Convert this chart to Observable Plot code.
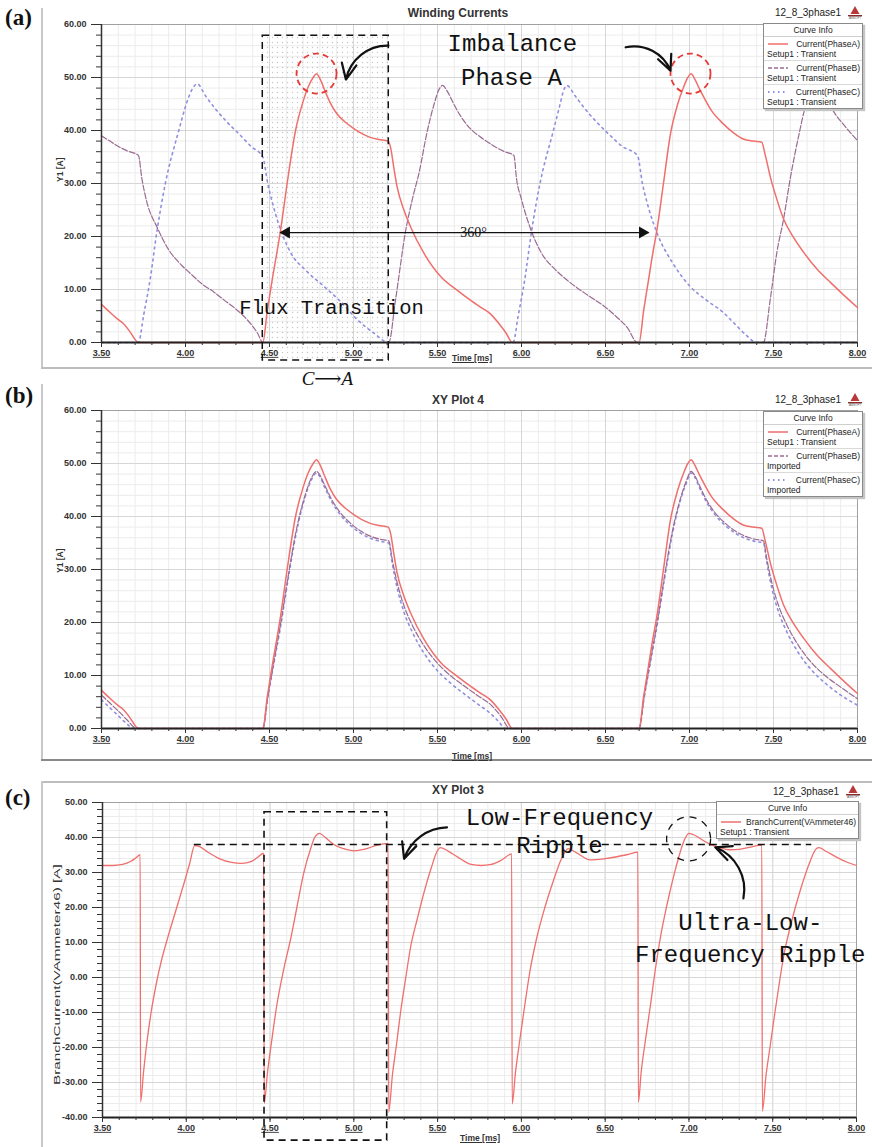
<!DOCTYPE html>
<html><head><meta charset="utf-8">
<script src="https://cdn.jsdelivr.net/npm/d3@7"></script>
<script src="https://cdn.jsdelivr.net/npm/@observablehq/plot@0.6"></script>
<style>
body{margin:0;background:#fff;}
#root{position:relative;width:872px;height:1147px;overflow:hidden;background:#fff;font-family:"Liberation Sans",Arial,sans-serif;color:#222;}
#root svg.plot{position:absolute;left:0;overflow:visible;background:transparent;}
.plabel{position:absolute;font-family:"Liberation Serif","Times New Roman",serif;font-weight:bold;font-size:23px;color:#111;line-height:23px;}
.ptitle{position:absolute;width:300px;text-align:center;font-weight:bold;font-size:12px;line-height:12px;color:#333;}
.proj{position:absolute;font-size:10px;line-height:10px;color:#222;}
.legend{position:absolute;background:#fff;border:1px solid #8a8a8a;box-shadow:2px 2px 1px #c4c4c4;font-size:8.5px;color:#222;}
.lh{text-align:center;border-bottom:1px solid #cfcfcf;height:12px;line-height:12px;}
.le{border-bottom:1px solid #dadada;padding:2px 2px 1px 3px;}
.le:last-child{border-bottom:none;}
.l1{display:flex;justify-content:space-between;align-items:center;height:10px;line-height:10px;}
.l2{height:10px;line-height:10px;}
.xlab{position:absolute;font-size:8.5px;font-weight:bold;text-decoration:underline;color:#333;line-height:9px;}
.ylab{position:absolute;font-size:8.5px;font-weight:bold;color:#333;line-height:9px;white-space:nowrap;transform-origin:0 0;}
.hline{position:absolute;height:0;border-top:2px solid #bdbdbd;}
.vline{position:absolute;width:0;border-left:2px solid #c8c8c8;}
g[aria-label="x-axis tick label"] text{text-decoration:underline;}
</style>
</head><body>
<div id="root"></div>
<script>
// ---------- tick labels ----------
const xMajor = [3.5, 4, 4.5, 5, 5.5, 6, 6.5, 7, 7.5, 8];
const yMajorAB = [0, 10, 20, 30, 40, 50, 60];
const yMajorC = [-40, -30, -20, -10, 0, 10, 20, 30, 40, 50];
const xMinor = d3.range(3.5, 8.0001, 0.1);
const yMinorAB = d3.range(0, 60.001, 2);
const yMinorC = d3.range(-40, 50.001, 2);

// ---------- (a) Winding Currents: [time ms, current A] ----------
const aPhaseA = [[3.50,7.2],[3.55,5.7],[3.60,4.3],[3.63,3.6],[3.67,2.0],[3.72,0],[4.46,0],[4.487,6],[4.515,11.6],[4.565,21],[4.605,30],[4.655,40],[4.70,45.5],[4.73,48.2],[4.76,50],[4.78,50.7],[4.80,49.8],[4.83,47.5],[4.86,45.3],[4.90,43.2],[4.95,41.6],[5.00,40.4],[5.05,39.4],[5.10,38.7],[5.15,38.3],[5.207,38],[5.22,36.9],[5.24,33],[5.26,29.3],[5.30,25],[5.34,21.8],[5.42,16.8],[5.52,12.4],[5.62,9.8],[5.70,7.9],[5.76,6.6],[5.815,5.4],[5.87,3.4],[5.91,1.7],[5.945,0],[6.70,0],[6.727,6],[6.755,11.6],[6.785,17.5],[6.805,21],[6.845,30],[6.887,39.4],[6.93,45],[6.965,48.2],[6.99,50],[7.01,50.7],[7.03,49.8],[7.06,47.8],[7.085,46.3],[7.13,43.8],[7.20,41.3],[7.26,39.6],[7.32,38.4],[7.38,38],[7.43,37.8],[7.45,35.5],[7.48,31.4],[7.52,27],[7.56,23.3],[7.62,19.8],[7.68,17],[7.76,13.8],[7.84,11.3],[7.92,8.9],[8.00,6.6]];
const aPhaseB = [[3.50,39],[3.55,38],[3.60,37],[3.65,36.2],[3.72,35.3],[3.74,31],[3.77,26.5],[3.83,21.8],[3.90,17.5],[3.97,14.8],[4.03,13],[4.10,11],[4.17,9.5],[4.23,8],[4.30,6.3],[4.37,4.2],[4.43,1.7],[4.46,0],[5.21,0],[5.25,8],[5.31,21],[5.35,27],[5.39,32],[5.44,40],[5.48,45],[5.51,47.8],[5.53,48.5],[5.56,47.3],[5.60,44.8],[5.64,42.6],[5.70,40.2],[5.75,38.9],[5.80,37.8],[5.85,36.8],[5.90,36],[5.955,35.3],[5.97,31],[6.00,27],[6.05,21.8],[6.12,16.8],[6.20,13.8],[6.29,11.3],[6.40,8.8],[6.49,6.9],[6.56,5],[6.63,2.8],[6.69,0],[7.44,0],[7.48,8],[7.52,17],[7.56,23.3],[7.60,31],[7.65,39],[7.69,44.5],[7.73,47.3],[7.77,48.5],[7.80,47.3],[7.83,45.2],[7.87,43],[7.92,41],[7.96,39.5],[8.00,38.1]];
const aPhaseC = [[3.50,0],[3.72,0],[3.75,5],[3.79,12],[3.83,21],[3.88,30],[3.96,40],[4.01,45.5],[4.04,47.8],[4.07,48.8],[4.12,46.5],[4.18,44],[4.25,41.5],[4.32,39.3],[4.39,37],[4.46,35],[4.49,30],[4.545,23.3],[4.625,17],[4.72,13.5],[4.82,10.7],[4.92,7.8],[5.02,4.4],[5.12,1.8],[5.21,0],[5.95,0],[5.98,5],[6.02,12],[6.06,21],[6.11,30],[6.19,40],[6.23,45],[6.25,47.5],[6.27,48.5],[6.32,46.5],[6.38,44],[6.45,41.5],[6.52,39.3],[6.60,37],[6.69,35.3],[6.72,30],[6.76,25],[6.81,20.4],[6.90,15],[7.00,10.7],[7.10,8],[7.20,5.7],[7.27,3.5],[7.34,1.3],[7.40,0],[8.00,0]];

// ---------- (b) XY Plot 4 ----------
const bPhaseA = aPhaseA;
const bPhaseB = [[3.50,6.3],[3.55,4.8],[3.60,3.3],[3.65,1.7],[3.71,0],[4.46,0],[4.49,6],[4.52,11.5],[4.57,20.5],[4.61,28.5],[4.66,37.5],[4.71,43.8],[4.74,46.6],[4.78,48.5],[4.80,47.8],[4.83,45.8],[4.87,43.2],[4.92,40.8],[4.98,38.8],[5.04,37.3],[5.10,36.3],[5.16,35.7],[5.21,35.4],[5.23,32],[5.26,27.5],[5.30,23.2],[5.35,19.5],[5.42,15.6],[5.50,12.3],[5.58,9.9],[5.66,8],[5.74,6.2],[5.82,4.4],[5.88,2.2],[5.93,0],[6.70,0],[6.73,6],[6.76,11.5],[6.81,20.5],[6.85,28.5],[6.90,37.5],[6.95,43.8],[6.98,46.6],[7.01,48.5],[7.03,47.8],[7.06,45.8],[7.10,43.2],[7.15,40.8],[7.21,38.8],[7.27,37.3],[7.33,36.3],[7.39,35.7],[7.44,35.4],[7.46,32],[7.49,27.5],[7.53,23.2],[7.58,19.5],[7.65,15.6],[7.73,12.3],[7.81,9.9],[7.90,7.8],[8.00,5.6]];
const bPhaseC = [[3.50,5.4],[3.55,3.9],[3.60,2.4],[3.65,0.9],[3.69,0],[4.46,0],[4.49,5.8],[4.52,11.2],[4.57,20],[4.61,28],[4.66,37],[4.71,43.5],[4.74,46.2],[4.78,48.2],[4.80,47.5],[4.83,45.4],[4.87,42.8],[4.92,40.4],[4.98,38.4],[5.04,36.9],[5.10,35.9],[5.16,35.3],[5.21,35],[5.23,31.3],[5.26,26.5],[5.30,22],[5.35,18.2],[5.42,14.2],[5.50,10.9],[5.58,8.5],[5.66,6.5],[5.74,4.6],[5.82,2.7],[5.87,1.1],[5.90,0],[6.70,0],[6.73,5.8],[6.76,11.2],[6.81,20],[6.85,28],[6.90,37],[6.95,43.5],[6.98,46.2],[7.01,48.2],[7.03,47.5],[7.06,45.4],[7.10,42.8],[7.15,40.4],[7.21,38.4],[7.27,36.9],[7.33,35.9],[7.39,35.3],[7.44,35],[7.46,31.3],[7.49,26.5],[7.53,22],[7.58,18.2],[7.65,14.2],[7.73,10.9],[7.81,8.5],[7.90,6.3],[8.00,4.4]];

// ---------- (c) XY Plot 3: BranchCurrent(VAmmeter46) ----------
const cBranch = [[3.50,32],[3.56,32],[3.62,32.3],[3.67,33.2],[3.70,34.2],[3.725,35.1],[3.727,-35.6],[3.745,-27],[3.765,-18.5],[3.79,-10],[3.82,-2],[3.85,4.5],[3.89,11.5],[3.94,19.5],[3.99,27.5],[4.02,32.5],[4.05,37.7],[4.08,37.4],[4.13,35.8],[4.20,33.9],[4.27,32.9],[4.33,32.6],[4.39,33.2],[4.43,34.5],[4.462,35.5],[4.465,-36],[4.485,-27],[4.51,-18],[4.54,-8],[4.58,2],[4.625,11.5],[4.66,20],[4.70,29.6],[4.74,36.5],[4.77,40.3],[4.795,41.2],[4.83,40],[4.88,38],[4.94,36.8],[5.00,36.2],[5.06,36.6],[5.14,37.8],[5.205,38.3],[5.208,-38.5],[5.23,-28],[5.255,-19],[5.28,-9.5],[5.31,0],[5.34,9],[5.38,17],[5.42,24.5],[5.46,31],[5.50,36.3],[5.515,37.1],[5.56,36.2],[5.62,34.4],[5.70,32.3],[5.76,32],[5.82,32.3],[5.88,33.5],[5.942,35.3],[5.945,-36.1],[5.965,-27],[5.99,-18],[6.02,-8],[6.05,1.5],[6.09,11],[6.14,20],[6.19,27.5],[6.24,34],[6.28,36.8],[6.33,35.6],[6.41,33.6],[6.49,33.9],[6.57,34.5],[6.64,35.2],[6.695,35.8],[6.698,-35.6],[6.715,-27],[6.74,-18],[6.77,-8],[6.80,2.5],[6.83,11.5],[6.87,21],[6.91,29.2],[6.94,34.5],[6.97,39],[7.00,41.2],[7.04,40.5],[7.08,39.3],[7.12,38.2],[7.18,37.2],[7.24,36.5],[7.30,36.6],[7.36,37.2],[7.435,37.8],[7.438,-38.2],[7.46,-28],[7.485,-19.5],[7.51,-11],[7.535,-3],[7.565,6],[7.61,15.5],[7.665,25],[7.71,31.5],[7.76,36.8],[7.775,37.1],[7.82,36],[7.88,34.4],[7.94,33],[8.00,32]];

// ---------- styles ----------
const colA = "#ef6f6c", colB = "#9a6a92", colC = "#8f8fe0";
const rows = arr => arr.map(([t, v]) => ({t, v}));
const root = document.getElementById("root");

function gridMarks(yMajor, yMinor) {
  return [
    Plot.gridX(xMinor, {stroke: "#ececec", strokeOpacity: 1}),
    Plot.gridY(yMinor, {stroke: "#ececec", strokeOpacity: 1}),
    Plot.gridX(xMajor, {stroke: "#d6d6d6", strokeOpacity: 1}),
    Plot.gridY(yMajor, {stroke: "#d6d6d6", strokeOpacity: 1}),
    Plot.frame({stroke: "#a0a0a0"})
  ];
}
function axisMarks(yMajor, yMinor, yBottom) {
  return [
    Plot.ruleX([3.5], {stroke: "#333", strokeWidth: 1.5}),
    Plot.ruleY([yBottom], {stroke: "#222", strokeWidth: 2}),
    Plot.axisY(yMajor, {tickSize: 10, tickPadding: 5, tickFormat: d => d.toFixed(2), fontSize: 9, fontWeight: "bold", label: null}),
    Plot.axisY(yMinor, {tickSize: 5, tickFormat: () => "", label: null}),
    Plot.axisX(xMajor, {tickSize: 5, tickPadding: 2, tickFormat: d => d.toFixed(2), fontSize: 9, fontWeight: "bold", label: null}),
    Plot.axisX(xMinor, {tickSize: 3, tickFormat: () => "", label: null})
  ];
}
function addDots(svg) {
  const ns = "http://www.w3.org/2000/svg";
  const defs = document.createElementNS(ns, "defs");
  defs.innerHTML = '<pattern id="dotsA" width="5" height="5" patternUnits="userSpaceOnUse"><circle cx="2.5" cy="2.5" r="0.7" fill="#c6c6c6"/></pattern>';
  svg.insertBefore(defs, svg.firstChild);
}
function place(svg, top) {
  svg.classList.add("plot");
  svg.style.top = top + "px";
  svg.style.color = "#333";
  root.appendChild(svg);
}
const lineMarks = (data, stroke, dash, w) => Plot.line(rows(data), {x: "t", y: "v", stroke, strokeWidth: w, strokeDasharray: dash, curve: "monotone-x"});
const mono = {fontFamily: "Liberation Mono, Courier New, monospace", fill: "#111"};

// ---------- panel (a) ----------
const svgA = Plot.plot({
  width: 872, height: 372, marginLeft: 101, marginRight: 15, marginTop: 24, marginBottom: 30,
  x: {domain: [3.5, 8]}, y: {domain: [0, 60]},
  style: {fontFamily: "Liberation Sans, Arial, sans-serif", background: "transparent", overflow: "visible"},
  marks: [
    ...gridMarks(yMajorAB, yMinorAB),
    Plot.rect([{x1: 4.46, x2: 5.21, y1: -3.4, y2: 57.9}], {x1: "x1", x2: "x2", y1: "y1", y2: "y2", fill: "url(#dotsA)"}),
    lineMarks(aPhaseC, colC, "2,4", 1.6),
    lineMarks(aPhaseB, colB, "6,2", 1.2),
    lineMarks(aPhaseA, colA, null, 1.5),
    ...axisMarks(yMajorAB, yMinorAB, 0),
    Plot.rect([{x1: 4.46, x2: 5.21, y1: -3.4, y2: 57.9}], {x1: "x1", x2: "x2", y1: "y1", y2: "y2", fill: "none", stroke: "#111", strokeWidth: 1.5, strokeDasharray: "7,5"}),
    Plot.dot([{x: 4.78, y: 50.75}, {x: 7.006, y: 50.75}], {x: "x", y: "y", r: 20, stroke: "#e53935", strokeWidth: 1.8, strokeDasharray: "6,4", fill: "none"}),
    Plot.arrow([{x1: 5.208, y1: 56, x2: 4.955, y2: 49.6}], {x1: "x1", y1: "y1", x2: "x2", y2: "y2", bend: -40, stroke: "#111", strokeWidth: 2.2, headLength: 12, headAngle: 50}),
    Plot.arrow([{x1: 6.62, y1: 55.7, x2: 6.887, y2: 51.3}], {x1: "x1", y1: "y1", x2: "x2", y2: "y2", bend: 40, stroke: "#111", strokeWidth: 2.2, headLength: 12, headAngle: 50}),
    Plot.link([{x1: 4.565, x2: 6.756, y: 20.75}], {x1: "x1", x2: "x2", y1: "y", y2: "y", stroke: "#111", strokeWidth: 1.2}),
    Plot.dot([{x: 4.565, y: 20.75}], {x: "x", y: "y", symbol: "triangle", r: 4.5, rotate: -90, fill: "#111", dx: 6}),
    Plot.dot([{x: 6.756, y: 20.75}], {x: "x", y: "y", symbol: "triangle", r: 4.5, rotate: 90, fill: "#111", dx: -6}),
    Plot.text([{x: 5.714, y: 20.75, s: "360°"}], {x: "x", y: "y", text: "s", fontFamily: "Liberation Serif, serif", fontSize: 14, fill: "#111"}),
    Plot.text([{x: 5.946, y: 56.4, s: "Imbalance"}, {x: 5.94, y: 50, s: "Phase A"}], {x: "x", y: "y", text: "s", fontSize: 24, ...mono}),
    Plot.text([{x: 4.869, y: 6.6, s: "Flux Transition"}], {x: "x", y: "y", text: "s", fontSize: 20.5, ...mono}),
    Plot.text([{x: 4.845, y: -6.9, s: "C⟶A"}], {x: "x", y: "y", text: "s", fontFamily: "Liberation Serif, DejaVu Serif, serif", fontStyle: "italic", fontSize: 19, fill: "#111"})
  ]
});
addDots(svgA);
place(svgA, 0);

// ---------- panel (b) ----------
const svgB = Plot.plot({
  width: 872, height: 386, marginLeft: 101, marginRight: 15, marginTop: 24, marginBottom: 44,
  x: {domain: [3.5, 8]}, y: {domain: [0, 60]},
  style: {fontFamily: "Liberation Sans, Arial, sans-serif", background: "transparent", overflow: "visible"},
  marks: [
    ...gridMarks(yMajorAB, yMinorAB),
    lineMarks(bPhaseC, colC, "2,4", 1.6),
    lineMarks(bPhaseB, colB, "6,2", 1.2),
    lineMarks(bPhaseA, colA, null, 1.5),
    ...axisMarks(yMajorAB, yMinorAB, 0)
  ]
});
place(svgB, 386);

// ---------- panel (c) ----------
const svgC = Plot.plot({
  width: 872, height: 369, marginLeft: 102, marginRight: 16, marginTop: 24, marginBottom: 30,
  x: {domain: [3.5, 8]}, y: {domain: [-40, 50]},
  style: {fontFamily: "Liberation Sans, Arial, sans-serif", background: "transparent", overflow: "visible"},
  marks: [
    ...gridMarks(yMajorC, yMinorC),
    lineMarks(cBranch, colA, null, 1.3),
    ...axisMarks(yMajorC, yMinorC, -40),
    Plot.link([{x1: 4.045, x2: 7.73, y: 38}], {x1: "x1", x2: "x2", y1: "y", y2: "y", stroke: "#111", strokeWidth: 1.6, strokeDasharray: "7,5"}),
    Plot.rect([{x1: 4.467, x2: 5.199, y1: -46.6, y2: 47.2}], {x1: "x1", x2: "x2", y1: "y1", y2: "y2", fill: "none", stroke: "#111", strokeWidth: 1.6, strokeDasharray: "7,5"}),
    Plot.dot([{x: 6.998, y: 39.6}], {x: "x", y: "y", r: 22, stroke: "#111", strokeWidth: 1.3, strokeDasharray: "7,6", fill: "none"}),
    Plot.arrow([{x1: 5.556, y1: 42.9, x2: 5.30, y2: 33.9}], {x1: "x1", y1: "y1", x2: "x2", y2: "y2", bend: -35, stroke: "#111", strokeWidth: 2.2, headLength: 12, headAngle: 50}),
    Plot.arrow([{x1: 7.325, y1: 22.6, x2: 7.157, y2: 37.2}], {x1: "x1", y1: "y1", x2: "x2", y2: "y2", bend: -40, stroke: "#111", strokeWidth: 2.2, headLength: 12, headAngle: 50}),
    Plot.text([{x: 6.227, y: 45.8, s: "Low-Frequency"}, {x: 6.227, y: 37.7, s: "Ripple"}, {x: 7.366, y: 15.8, s: "Ultra-Low-"}, {x: 7.366, y: 6.6, s: "Frequency Ripple"}], {x: "x", y: "y", text: "s", fontSize: 24, ...mono})
  ]
});
place(svgC, 778);

// ---------- html decorations ----------
function el(cls, html, css) {
  const d = document.createElement("div");
  d.className = cls; d.innerHTML = html;
  Object.assign(d.style, css);
  root.appendChild(d);
  return d;
}
el("vline", "", {left: "41px", top: "8px", height: "360px"});
el("hline", "", {left: "41px", top: "367px", width: "831px"});
el("vline", "", {left: "41px", top: "384px", height: "376px"});
el("hline", "", {left: "41px", top: "759px", width: "831px", borderTopColor: "#8a8a8a"});
el("hline", "", {left: "41px", top: "781px", width: "831px"});
el("vline", "", {left: "41px", top: "781px", height: "366px"});

el("plabel", "(a)", {left: "5px", top: "6px"});
el("plabel", "(b)", {left: "5px", top: "384px"});
el("plabel", "(c)", {left: "5px", top: "786px"});

el("ptitle", "Winding Currents", {left: "308px", top: "7px"});
el("ptitle", "XY Plot 4", {left: "308px", top: "394px"});
el("ptitle", "XY Plot 3", {left: "308px", top: "784px"});

const logo = '<svg width="16" height="14" style="position:absolute;left:72px;top:-3px"><polygon points="8,1 12.5,9 3.5,9" fill="#b8383a"/><rect x="1" y="10" width="14" height="1.4" fill="#8a2a2a"/><text x="8" y="13.8" font-size="3" text-anchor="middle" fill="#555">ANSOFT</text></svg>';
el("proj", "12_8_3phase1" + logo, {left: "775px", top: "8px"});
el("proj", "12_8_3phase1" + logo, {left: "775px", top: "395px"});
el("proj", "12_8_3phase1" + logo, {left: "773px", top: "787px"});

function legend(x, y, w, items) {
  let html = '<div class="lh">Curve Info</div>';
  for (const it of items) {
    html += `<div class="le"><div class="l1"><svg width="22" height="6"><line x1="1" y1="3" x2="21" y2="3" stroke="${it.color}" stroke-width="${it.w || 1.5}" stroke-dasharray="${it.dash || "none"}"/></svg><span>${it.name}</span></div><div class="l2">${it.sub}</div></div>`;
  }
  el("legend", html, {left: x + "px", top: y + "px", width: w + "px"});
}
legend(763, 23, 98, [
  {name: "Current(PhaseA)", sub: "Setup1 : Transient", color: colA},
  {name: "Current(PhaseB)", sub: "Setup1 : Transient", color: colB, dash: "4,2"},
  {name: "Current(PhaseC)", sub: "Setup1 : Transient", color: colC, dash: "1.5,3.5", w: 1.8}
]);
legend(763, 411, 98, [
  {name: "Current(PhaseA)", sub: "Setup1 : Transient", color: colA},
  {name: "Current(PhaseB)", sub: "Imported", color: colB, dash: "4,2"},
  {name: "Current(PhaseC)", sub: "Imported", color: colC, dash: "1.5,3.5", w: 1.8}
]);
legend(716, 801, 141, [
  {name: "BranchCurrent(VAmmeter46)", sub: "Setup1 : Transient", color: colA}
]);

el("xlab", "Time [ms]", {left: "452px", top: "354px"});
el("xlab", "Time [ms]", {left: "452px", top: "752px"});
el("xlab", "Time [ms]", {left: "460px", top: "1134px"});
el("ylab", "Y1 [A]", {left: "56px", top: "182px", transform: "rotate(-90deg)"});
el("ylab", "Y1 [A]", {left: "56px", top: "573px", transform: "rotate(-90deg)"});
el("ylab", "BranchCurrent(VAmmeter46) [A]", {left: "53px", top: "1085px", fontWeight: "normal", transform: "rotate(-90deg) scale(1.8,1)"});
</script>
</body></html>
